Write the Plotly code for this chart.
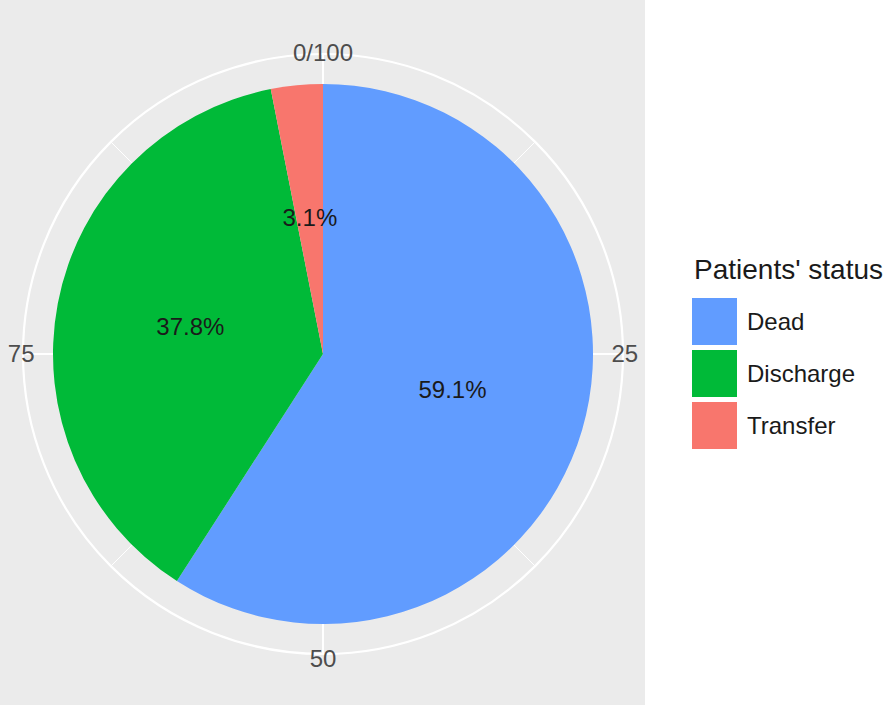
import plotly.graph_objects as go

# ---- data ----
categories = ["Dead", "Discharge", "Transfer"]
percentages = [59.1, 37.8, 3.1]
colors = ["#619CFF", "#00BA38", "#F8766D"]
tick_values = [0, 25, 50, 75]
tick_labels = ["0/100", "25", "50", "75"]
minor_tick_values = [12.5, 37.5, 62.5, 87.5]
legend_title = "Patients' status"

W, H = 894, 710
FONT = "Liberation Sans, Arial, sans-serif"

# percent -> degrees (full circle = 100)
deg = 360.0 / 100.0
starts = []
acc = 0.0
for p in percentages:
    starts.append(acc)
    acc += p
mids = [(s + p / 2) * deg for s, p in zip(starts, percentages)]
widths = [p * deg for p in percentages]

# geometry (pixels)
cx, cy = 323, 354
R_outer = 300
R_pie = 270
R_top = 288  # polar holding the bars; tick labels sit just outside


def dom(r):
    x = [(cx - r) / W, (cx + r) / W]
    y = [1 - (cy + r) / H, 1 - (cy - r) / H]
    return dict(x=x, y=y)


fig = go.Figure()

# invisible traces so the grid subplots render
for sp in ["polar", "polar2"]:
    fig.add_trace(go.Scatterpolar(r=[0], theta=[0], mode="none", subplot=sp,
                                  showlegend=False, hoverinfo="skip"))

for cat, m, w, c in zip(categories, mids, widths, colors):
    fig.add_trace(go.Barpolar(r=[1], theta=[m], width=[w], name=cat,
                              marker=dict(color=c, line=dict(width=0)),
                              subplot="polar3", showlegend=False,
                              hoverinfo="name"))

fig.add_trace(go.Scatterpolar(r=[0.5] * len(categories), theta=mids, mode="text",
                              text=[f"{p}%" for p in percentages],
                              textfont=dict(size=24, color="#1a1a1a", family=FONT),
                              subplot="polar3", showlegend=False, hoverinfo="skip",
                              cliponaxis=False))

common_ang = dict(rotation=90, direction="clockwise", thetaunit="degrees")
hidden_rad = dict(visible=False, showgrid=False, range=[0, 1])

fig.update_layout(
    width=W, height=H,
    margin=dict(l=0, r=0, t=0, b=0),
    paper_bgcolor="white",
    font=dict(family=FONT),
    # minor grid
    polar=dict(
        domain=dom(R_outer), bgcolor="rgba(0,0,0,0)",
        radialaxis=hidden_rad,
        angularaxis=dict(**common_ang, tickmode="array",
                         tickvals=[v * deg for v in minor_tick_values],
                         showticklabels=False, ticks="", showline=False,
                         gridcolor="white", gridwidth=1.2),
    ),
    # major grid + outer circle
    polar2=dict(
        domain=dom(R_outer), bgcolor="rgba(0,0,0,0)",
        radialaxis=hidden_rad,
        angularaxis=dict(**common_ang, tickmode="array",
                         tickvals=[v * deg for v in tick_values],
                         showticklabels=False, ticks="", showline=True,
                         linecolor="white", linewidth=2.2,
                         gridcolor="white", gridwidth=2.2),
    ),
    # bars + tick labels
    polar3=dict(
        domain=dom(R_top), bgcolor="rgba(0,0,0,0)",
        radialaxis=dict(visible=False, showgrid=False, range=[0, R_top / R_pie]),
        angularaxis=dict(**common_ang, tickmode="array",
                         tickvals=[v * deg for v in tick_values],
                         ticktext=tick_labels, ticks="", showline=False,
                         showgrid=False,
                         tickfont=dict(size=24, color="#4D4D4D", family=FONT)),
    ),
)

# gray panel background
fig.add_shape(type="rect", xref="paper", yref="paper", x0=0, x1=645 / W,
              y0=1 - 705 / H, y1=1, fillcolor="#EBEBEB", line=dict(width=0),
              layer="below")

# manual legend (ggplot-style large keys)
fig.add_annotation(x=692 / W, y=1 - 270 / H, xref="paper", yref="paper",
                   text=legend_title, showarrow=False, xanchor="left",
                   yanchor="middle", font=dict(size=28, color="#1a1a1a", family=FONT))
key_top = 298
key_h = 47
key_gap = 52
for i, (cat, c) in enumerate(zip(categories, colors)):
    y0 = key_top + i * key_gap
    fig.add_shape(type="rect", xref="paper", yref="paper",
                  x0=692 / W, x1=737 / W, y0=1 - (y0 + key_h) / H, y1=1 - y0 / H,
                  fillcolor=c, line=dict(width=0))
    fig.add_annotation(x=745 / W, y=1 - (y0 + key_h / 2) / H, xref="paper",
                       yref="paper", text=cat, showarrow=False, xanchor="left",
                       yanchor="middle", font=dict(size=24, color="#1a1a1a", family=FONT))

fig.write_html("out.html", config={"displayModeBar": False},
               post_script="document.body.style.margin='0px';document.body.style.overflow='hidden';")
